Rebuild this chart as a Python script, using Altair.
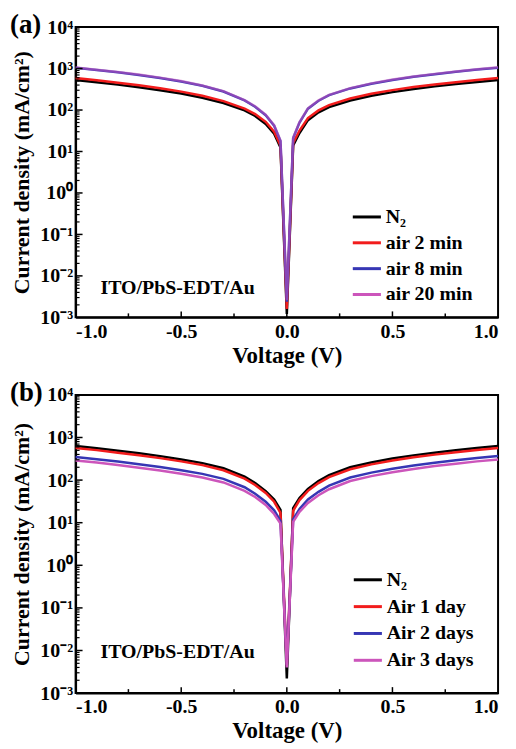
import altair as alt
import pandas as pd

# Voltage sample points (V)
V = [-1.0, -0.9, -0.8, -0.7, -0.6, -0.5, -0.4, -0.3, -0.2, -0.15, -0.1, -0.06, -0.03,
     0.0, 0.03, 0.06, 0.1, 0.15, 0.2, 0.3, 0.4, 0.5, 0.6, 0.7, 0.8, 0.9, 1.0]

# Panel (a) current density (mA/cm^2)
a_names = ["N₂", "air 2 min", "air 8 min", "air 20 min"]
a_N2 = [530, 468, 410, 355, 300, 250, 198, 148, 98, 72, 46, 27, 12.5, 0.0012,
        14, 28, 57, 88, 118, 170, 220, 270, 320, 372, 422, 475, 530]
a_air2 = [590, 520, 455, 395, 335, 278, 220, 164, 108, 80, 52, 30, 14, 0.0016,
          16, 32, 64, 98, 132, 190, 246, 302, 358, 414, 470, 530, 590]
a_air8 = [1040, 920, 810, 700, 595, 490, 385, 280, 170, 120, 75, 42, 18, 0.0024,
          21, 50, 108, 168, 228, 332, 432, 532, 632, 732, 835, 945, 1050]
a_air20 = [1060, 935, 825, 715, 605, 500, 392, 286, 174, 123, 77, 43, 18.5, 0.0026,
           21.5, 51, 110, 171, 232, 338, 440, 542, 644, 745, 848, 958, 1070]

# Panel (b) current density (mA/cm^2)
b_names = ["N₂", "Air 1 day", "Air 2 days", "Air 3 days"]
b_N2 = [630, 560, 490, 425, 365, 305, 250, 190, 120, 85, 55, 35, 20, 0.0022,
        22, 38, 62, 95, 130, 200, 260, 320, 380, 440, 500, 565, 630]
b_air1 = [565, 505, 440, 382, 328, 275, 225, 170, 108, 77, 50, 31, 17, 0.0045,
          19, 34, 56, 85, 117, 180, 234, 288, 342, 396, 450, 508, 567]
b_air2 = [350, 310, 272, 236, 203, 170, 140, 107, 68, 48, 31, 19.5, 11, 0.0045,
          12, 21, 35, 53, 74, 115, 150, 185, 220, 256, 292, 330, 370]
b_air3 = [290, 258, 226, 196, 168, 141, 115, 88, 56, 40, 26, 16, 9.5, 0.004,
          10.5, 18, 29, 44, 61, 95, 124, 153, 183, 213, 243, 275, 305]

Y_TICKS = [1e-3, 1e-2, 1e-1, 1e0, 1e1, 1e2, 1e3, 1e4]
X_TICKS = [-1.0, -0.5, 0.0, 0.5, 1.0]
X_MINOR = [-0.75, -0.25, 0.25, 0.75]
Y_MINOR = [k * 10.0 ** d for d in range(-3, 4) for k in range(2, 10)]

SERIF = "Liberation Serif"
W = 425


def panel(names, series, colors, opac, tag, height, legend_xy, row_pad, annot_y):
    rows = []
    for n, vals in zip(names, series):
        for v, j in zip(V, vals):
            rows.append({"V": v, "J": j, "series": n})
    df = pd.DataFrame(rows)
    xs = alt.Scale(domain=[-1, 1], nice=False, zero=False)
    ys = alt.Scale(type="log", domain=[1e-3, 1e4], nice=False)
    xaxis = alt.Axis(values=X_TICKS, tickSize=0, grid=False, title="Voltage (V)",
                     labelExpr="replace(format(datum.value, '.1f'), '\u2212', '-')",
                     labelPadding=4, titlePadding=3, titleFontSize=23)
    yaxis = alt.Axis(values=Y_TICKS, tickSize=0, grid=False,
                     title="Current density (mA/cm²)",
                     labelExpr="['10⁻³','10⁻²','10⁻¹','10⁰','10¹','10²','10³','10⁴'][round(log(datum.value)/LN10)+3]",
                     labelPadding=3, titlePadding=6)
    color = alt.Color("series:N", scale=alt.Scale(domain=names, range=colors),
                      legend=alt.Legend(title=None, orient="none",
                                        legendX=legend_xy[0], legendY=legend_xy[1],
                                        symbolType="stroke", symbolSize=800,
                                        symbolStrokeWidth=3, labelFont=SERIF,
                                        labelFontSize=20, labelFontWeight="bold",
                                        labelColor="black", rowPadding=row_pad,
                                        labelOffset=3, padding=0))
    layers = []
    for i, n in enumerate(names):
        layers.append(
            alt.Chart(df).transform_filter(alt.datum.series == n)
            .mark_line(strokeWidth=2.5, opacity=opac[i])
            .encode(x=alt.X("V:Q", scale=xs, axis=xaxis),
                    y=alt.Y("J:Q", scale=ys, axis=yaxis),
                    color=color)
        )
    # inward tick marks
    ymaj = pd.DataFrame({"t": Y_TICKS[1:-1]})
    ymin = pd.DataFrame({"t": Y_MINOR})
    xmaj = pd.DataFrame({"t": X_TICKS[1:-1]})
    xmin = pd.DataFrame({"t": X_MINOR})
    layers.append(alt.Chart(ymaj).mark_rule(color="black", strokeWidth=1.5).encode(
        y=alt.Y("t:Q", scale=ys, axis=yaxis), x=alt.value(0), x2=alt.value(7)))
    layers.append(alt.Chart(ymin).mark_rule(color="black", strokeWidth=1.2).encode(
        y=alt.Y("t:Q", scale=ys, axis=yaxis), x=alt.value(0), x2=alt.value(4)))
    layers.append(alt.Chart(xmaj).mark_rule(color="black", strokeWidth=1.5).encode(
        x=alt.X("t:Q", scale=xs, axis=xaxis), y=alt.value(height), y2=alt.value(height - 6)))
    layers.append(alt.Chart(xmin).mark_rule(color="black", strokeWidth=1.5).encode(
        x=alt.X("t:Q", scale=xs, axis=xaxis), y=alt.value(height), y2=alt.value(height - 4)))
    # annotations
    layers.append(alt.Chart(pd.DataFrame({"t": ["ITO/PbS-EDT/Au"]})).mark_text(
        font=SERIF, fontSize=20, fontWeight="bold", color="black", align="left",
        baseline="middle").encode(x=alt.value(25), y=alt.value(annot_y), text="t:N"))
    layers.append(alt.Chart(pd.DataFrame({"t": [tag]})).mark_text(
        font=SERIF, fontSize=27, fontWeight="bold", color="black", align="left",
        baseline="middle").encode(x=alt.value(-66), y=alt.value(-2), text="t:N"))
    return alt.layer(*layers).properties(width=W, height=height)


pa = panel(a_names, [a_N2, a_air2, a_air8, a_air20],
           ["#000000", "#f21c1c", "#3636b4", "#cc55bb"], [1, 1, 1, 0.55],
           "(a)", 292, (277, 175), -1, 263)
pb = panel(b_names, [b_N2, b_air1, b_air2, b_air3],
           ["#000000", "#f21c1c", "#3636b4", "#cc55bb"], [1, 1, 1, 1],
           "(b)", 300, (278, 170), 1, 259)

chart = alt.vconcat(pa, pb, spacing=10).resolve_scale(color="independent").configure(
    padding={"left": 1, "top": 0, "right": 4, "bottom": 0},
    background="white",
).configure_view(stroke="black", strokeWidth=2).configure_axis(
    labelFont=SERIF, labelFontSize=20, labelFontWeight="bold", labelColor="black",
    titleFont=SERIF, titleFontSize=22, titleFontWeight="bold", titleColor="black",
    domainColor="black", domainWidth=2,
)

chart.save("out.html", embed_options={"renderer": "svg", "actions": False})
